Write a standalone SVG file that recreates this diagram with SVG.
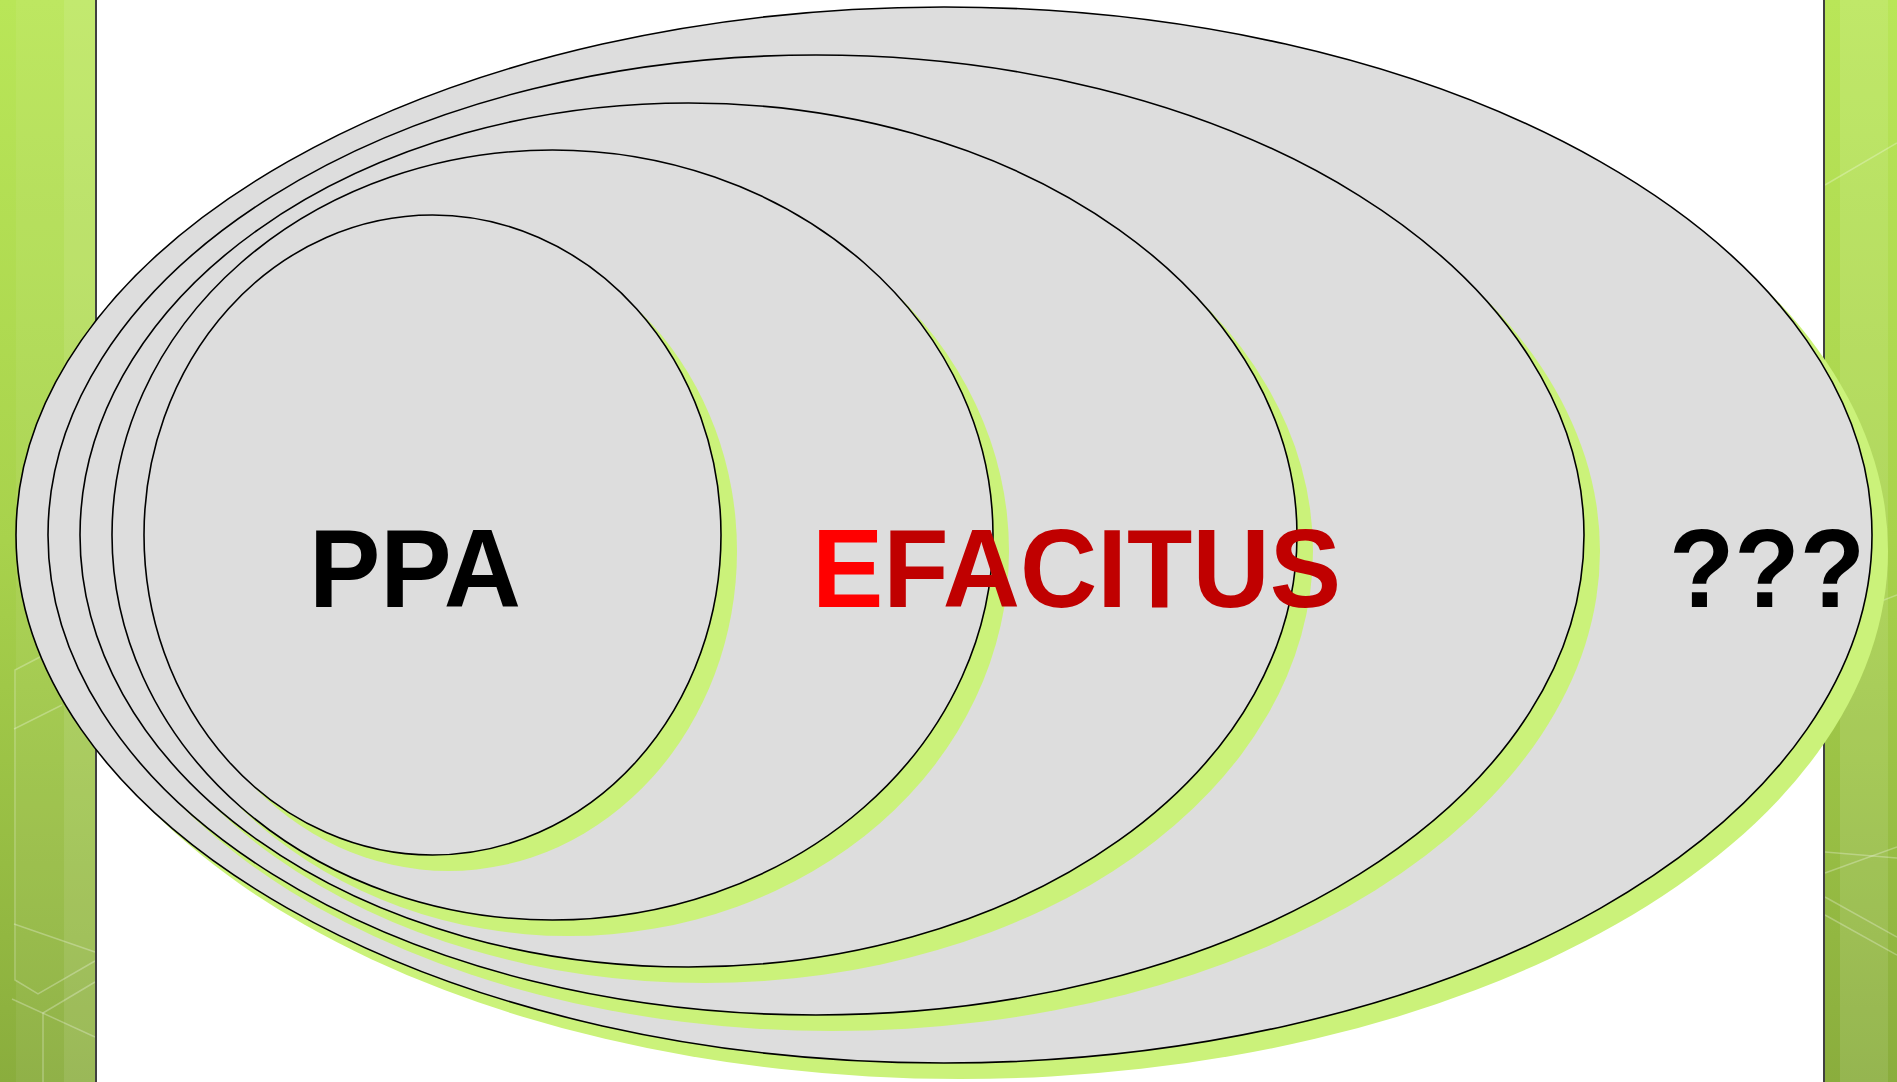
<svg xmlns="http://www.w3.org/2000/svg" width="1897" height="1082" viewBox="0 0 1897 1082">
<defs>
<linearGradient id="barg" x1="0" y1="0" x2="0" y2="1">
<stop offset="0" stop-color="#b9e658"/>
<stop offset="0.5" stop-color="#a8d24c"/>
<stop offset="1" stop-color="#8aad3d"/>
</linearGradient>
<style>
.sh{fill:#cbf27a;stroke:none}
.el{fill:#dddddd;stroke:#000;stroke-width:1.6}
.hex{fill:none;stroke:#ffffff;stroke-opacity:0.28;stroke-width:1.5}
.edge{stroke:#404040;stroke-width:2}
.t{font-family:"Liberation Sans",Arial,sans-serif;font-weight:bold;font-size:107px}
</style>
</defs>
<rect width="1897" height="1082" fill="#ffffff"/>
<g id="left-bar">
<rect x="0" y="0" width="96" height="1082" fill="url(#barg)"/>
<rect x="16" y="0" width="48" height="1082" fill="#ffffff" fill-opacity="0.06"/>
<rect x="64" y="0" width="32" height="1082" fill="#ffffff" fill-opacity="0.14"/>
<polyline class="hex" points="40,657 15,670 15,980 38,994 95,961"/>
<line class="hex" x1="14" y1="729" x2="62" y2="705"/>
<line class="hex" x1="14" y1="924" x2="95" y2="952"/>
<line class="hex" x1="12" y1="999" x2="95" y2="1037"/>
<polyline class="hex" points="95,982 43,1013 43,1082"/>
<line class="edge" x1="96" y1="0" x2="96" y2="1082"/>
</g>
<g id="right-bar">
<rect x="1824" y="0" width="73" height="1082" fill="url(#barg)"/>
<rect x="1840" y="0" width="48" height="1082" fill="#ffffff" fill-opacity="0.1"/>
<line class="hex" x1="1825" y1="185" x2="1897" y2="143"/>
<line class="hex" x1="1825" y1="873" x2="1897" y2="847"/>
<line class="hex" x1="1825" y1="852" x2="1897" y2="858"/>
<line class="hex" x1="1825" y1="897" x2="1897" y2="937"/>
<line class="hex" x1="1825" y1="915" x2="1897" y2="955"/>
<line class="hex" x1="1840" y1="617" x2="1897" y2="595"/>
<line class="edge" x1="1824" y1="0" x2="1824" y2="1082"/>
</g>
<g id="set-5">
<ellipse class="sh" cx="960" cy="551" rx="928" ry="528"/>
<ellipse class="el" cx="944" cy="535" rx="928" ry="528"/>
</g>
<g id="set-4">
<ellipse class="sh" cx="832" cy="551" rx="768" ry="480"/>
<ellipse class="el" cx="816" cy="535" rx="768" ry="480"/>
</g>
<g id="set-3">
<ellipse class="sh" cx="704.5" cy="551" rx="608.5" ry="432"/>
<ellipse class="el" cx="688.5" cy="535" rx="608.5" ry="432"/>
</g>
<g id="set-2">
<ellipse class="sh" cx="568.5" cy="551" rx="440.5" ry="385"/>
<ellipse class="el" cx="552.5" cy="535" rx="440.5" ry="385"/>
</g>
<g id="set-1">
<ellipse class="sh" cx="448.5" cy="551" rx="288.5" ry="320"/>
<ellipse class="el" cx="432.5" cy="535" rx="288.5" ry="320"/>
</g>
<g id="connectors"/>
<g id="labels" transform="translate(0,607) scale(1,1.035) translate(0,-607)">
<text id="ppa" class="t" x="309" y="607" fill="#000000">PPA</text>
<text id="efacitus" class="t" x="812" y="607"><tspan fill="#ff0000">E</tspan><tspan fill="#c00000">FACITUS</tspan></text>
<text id="qqq" class="t" x="1669" y="607" fill="#000000">???</text>
</g>
</svg>
